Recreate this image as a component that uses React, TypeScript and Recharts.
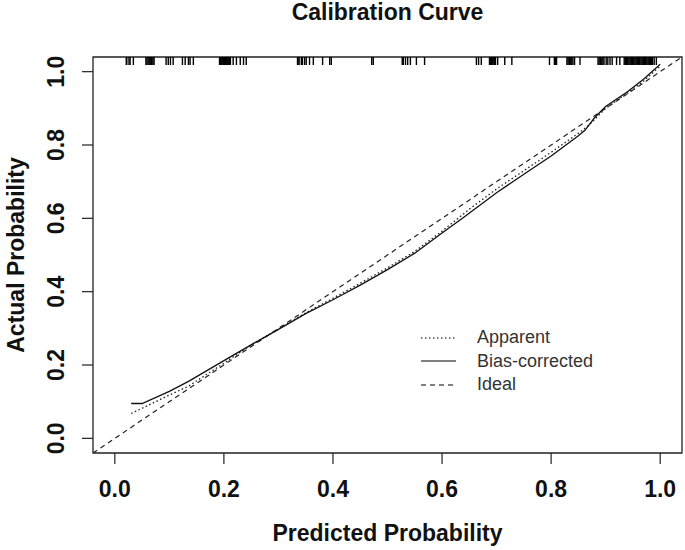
import React from 'react';
import { ComposedChart, Line, Scatter, XAxis, YAxis, ReferenceArea, Legend } from 'recharts';

const FONT = '"Liberation Sans", Arial, Helvetica, sans-serif';

const axisTicks = [0, 0.2, 0.4, 0.6, 0.8, 1.0];
const axisDomain = [-0.04, 1.04];

const apparentX = [0.03, 0.05, 0.1, 0.136, 0.2, 0.25, 0.3, 0.35, 0.4, 0.45, 0.5, 0.55, 0.6, 0.65, 0.7, 0.75, 0.8, 0.85, 0.87, 0.9, 0.94, 0.97, 1.0];
const apparentY = [0.068, 0.082, 0.118, 0.143, 0.205, 0.255, 0.298, 0.342, 0.382, 0.423, 0.465, 0.51, 0.565, 0.625, 0.68, 0.73, 0.78, 0.832, 0.855, 0.9, 0.942, 0.975, 1.015];

const biasX = [0.03, 0.05, 0.1, 0.136, 0.2, 0.25, 0.3, 0.35, 0.4, 0.45, 0.5, 0.55, 0.6, 0.638, 0.7, 0.75, 0.8, 0.85, 0.862, 0.88, 0.9, 0.94, 0.97, 1.0];
const biasY = [0.095, 0.095, 0.128, 0.156, 0.212, 0.255, 0.297, 0.34, 0.378, 0.418, 0.46, 0.505, 0.56, 0.601, 0.67, 0.72, 0.77, 0.825, 0.84, 0.875, 0.905, 0.945, 0.98, 1.02];

const idealX = [-0.04, 1.04];
const idealY = [-0.04, 1.04];

const rugX = [
  0.021, 0.022, 0.026, 0.028, 0.034,
  0.057, 0.059, 0.061, 0.063, 0.065, 0.067, 0.068, 0.07, 0.072,
  0.094, 0.098, 0.102, 0.107,
  0.124, 0.129, 0.135, 0.138, 0.144,
  0.192, 0.194, 0.195, 0.197, 0.199, 0.201, 0.203, 0.205, 0.206, 0.208, 0.21, 0.212,
  0.217, 0.223, 0.23, 0.236, 0.241,
  0.335, 0.336, 0.338, 0.342, 0.344, 0.348, 0.351, 0.357, 0.364,
  0.381, 0.394, 0.397,
  0.471, 0.474,
  0.527, 0.529, 0.533, 0.537, 0.542,
  0.553, 0.568,
  0.663, 0.667, 0.672,
  0.687, 0.689, 0.691, 0.693, 0.695, 0.696, 0.698, 0.702,
  0.715, 0.728,
  0.797, 0.806, 0.808, 0.81,
  0.829, 0.831, 0.833, 0.834, 0.836, 0.838, 0.84, 0.843,
  0.853,
  0.886, 0.888, 0.89, 0.891, 0.893, 0.895, 0.897, 0.901, 0.904, 0.908, 0.912,
  0.92, 0.926,
  0.934, 0.936, 0.938, 0.94, 0.941, 0.943, 0.945, 0.947, 0.949, 0.951, 0.952, 0.954, 0.956, 0.958, 0.96, 0.962, 0.963, 0.965, 0.967, 0.969, 0.971, 0.973, 0.974, 0.976, 0.978, 0.98, 0.982, 0.984, 0.986, 0.989, 0.993,
];

const legendLabels = ['Apparent', 'Bias-corrected', 'Ideal'];

const zip = (xs: number[], ys: number[]) => xs.map((x, i) => ({ x, y: ys[i] }));
const apparentData = zip(apparentX, apparentY);
const biasData = zip(biasX, biasY);
const idealData = zip(idealX, idealY);
const rugData = rugX.map((x) => ({ x, y: axisDomain[1] }));

const lineDash = ['1.5 2.5', undefined, '5 4'];

const XTick = (props: any) => {
  const { x, y, payload } = props;
  return (
    <text x={x} y={y} dy={33} textAnchor="middle" fontFamily={FONT} fontWeight="bold" fontSize={23} fill="#111">
      {Number(payload.value).toFixed(1)}
    </text>
  );
};

const YTick = (props: any) => {
  const { x, y, payload } = props;
  const bx = x - 18;
  return (
    <text x={bx} y={y} textAnchor="middle" transform={`rotate(-90, ${bx}, ${y})`} fontFamily={FONT} fontWeight="bold" fontSize={23} fill="#111">
      {Number(payload.value).toFixed(1)}
    </text>
  );
};

const XTitle = (props: any) => {
  const vb = props.viewBox;
  return (
    <text x={vb.x + vb.width / 2} y={vb.y + 88} textAnchor="middle" fontFamily={FONT} fontWeight="bold" fontSize={23} fill="#111">
      Predicted Probability
    </text>
  );
};

const YTitle = (props: any) => {
  const vb = props.viewBox;
  const bx = vb.x - 9;
  const cy = vb.y + vb.height / 2;
  return (
    <text x={bx} y={cy} textAnchor="middle" transform={`rotate(-90, ${bx}, ${cy})`} fontFamily={FONT} fontWeight="bold" fontSize={23} fill="#111">
      Actual Probability
    </text>
  );
};

const RugTick = (props: any) => {
  const { cx, cy } = props;
  return <line x1={cx} x2={cx} y1={cy} y2={cy + 8} stroke="#000" strokeWidth={1.4} />;
};

const renderLegend = () => (
  <div style={{ fontFamily: FONT, fontSize: 18, color: '#333' }}>
    {legendLabels.map((label, i) => (
      <div key={label} style={{ display: 'flex', alignItems: 'center', height: 23.5 }}>
        <svg width={36} height={10} style={{ display: 'block' }}>
          <line x1={0} x2={35} y1={5} y2={5} stroke="#555" strokeWidth={1.5} strokeDasharray={lineDash[i]} />
        </svg>
        <span style={{ marginLeft: 20, lineHeight: '23.5px' }}>{label}</span>
      </div>
    ))}
  </div>
);

export default function App() {
  return (
    <div style={{ position: 'absolute', left: 0, top: 0, width: 685, height: 550, background: '#fff' }}>
      <div
        style={{
          position: 'absolute',
          left: 187.5,
          top: 1,
          width: 400,
          textAlign: 'center',
          fontFamily: FONT,
          fontWeight: 'bold',
          fontSize: 23,
          lineHeight: '23px',
          color: '#111',
        }}
      >
        Calibration Curve
      </div>
      <ComposedChart width={685} height={550} margin={{ top: 57, right: 3, bottom: 0, left: 33 }}>
        <XAxis
          type="number"
          dataKey="x"
          domain={axisDomain}
          ticks={axisTicks}
          interval={0}
          allowDataOverflow
          height={97}
          tickSize={11}
          tickMargin={0}
          axisLine={false}
          tickLine={{ stroke: '#222', strokeWidth: 1.2 }}
          tick={(p: any) => <XTick {...p} />}
          label={(p: any) => <XTitle {...p} />}
        />
        <YAxis
          type="number"
          dataKey="y"
          domain={axisDomain}
          ticks={axisTicks}
          interval={0}
          allowDataOverflow
          width={60}
          tickSize={11}
          tickMargin={0}
          axisLine={false}
          tickLine={{ stroke: '#222', strokeWidth: 1.2 }}
          tick={(p: any) => <YTick {...p} />}
          label={(p: any) => <YTitle {...p} />}
        />
        <ReferenceArea x1={axisDomain[0]} x2={axisDomain[1]} y1={axisDomain[0]} y2={axisDomain[1]} fill="none" stroke="#222" strokeWidth={1.3} ifOverflow="visible" />
        <Line data={idealData} dataKey="y" name="Ideal" type="linear" stroke="#222" strokeWidth={1.2} strokeDasharray="5 4" dot={false} activeDot={false} isAnimationActive={false} />
        <Line data={apparentData} dataKey="y" name="Apparent" type="linear" stroke="#222" strokeWidth={1.3} strokeDasharray="1.5 2.5" dot={false} activeDot={false} isAnimationActive={false} />
        <Line data={biasData} dataKey="y" name="Bias-corrected" type="linear" stroke="#111" strokeWidth={1.3} dot={false} activeDot={false} isAnimationActive={false} />
        <Scatter data={rugData} dataKey="y" name="rug" shape={(p: any) => <RugTick {...p} />} isAnimationActive={false} legendType="none" />
        <Legend
          layout="horizontal"
          verticalAlign="middle"
          align="center"
          content={renderLegend}
          wrapperStyle={{ position: 'absolute', left: 421, top: 326, width: 220, height: 72 }}
        />
      </ComposedChart>
    </div>
  );
}
